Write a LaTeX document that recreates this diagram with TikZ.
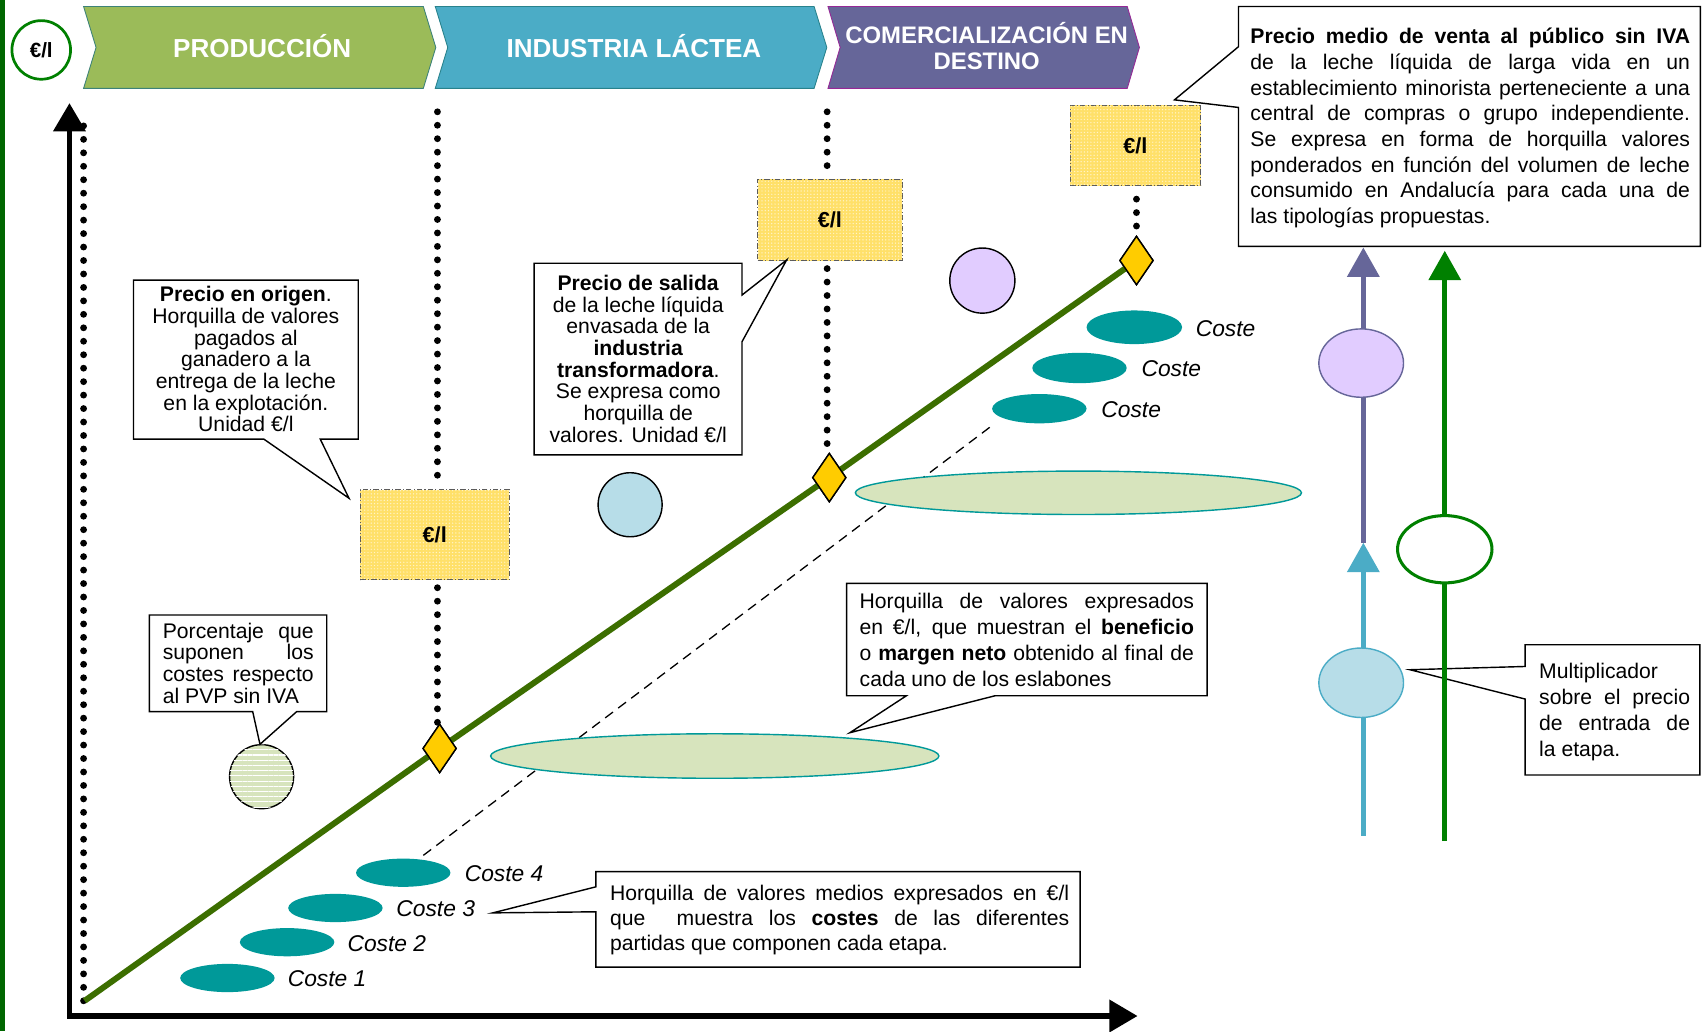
\documentclass[tikz,border=0pt]{standalone}
\usepackage{fontspec}
\setmainfont{Liberation Sans}
\usetikzlibrary{arrows.meta,shapes.geometric,patterns,patterns.meta,calc}

\definecolor{barGreen}{RGB}{0,102,0}
\definecolor{ringGreen}{RGB}{0,128,0}
\definecolor{prodFill}{RGB}{155,187,89}
\definecolor{prodEdge}{RGB}{60,130,120}
\definecolor{indFill}{RGB}{75,172,198}
\definecolor{indEdge}{RGB}{40,130,140}
\definecolor{comFill}{RGB}{102,102,153}
\definecolor{comEdge}{RGB}{150,40,150}
\definecolor{priceFill}{RGB}{255,224,105}
\definecolor{priceEdge}{RGB}{90,90,90}
\definecolor{diamondFill}{RGB}{255,204,0}
\definecolor{costTeal}{RGB}{0,153,153}
\definecolor{marginFill}{RGB}{215,228,189}
\definecolor{lineOlive}{RGB}{60,110,0}
\definecolor{paleBlue}{RGB}{183,221,232}
\definecolor{paleLilac}{RGB}{225,204,255}
\definecolor{arrowBlue}{RGB}{75,172,198}
\definecolor{arrowPurple}{RGB}{102,102,153}

% one justified line of a callout text
\newcommand{\jl}[2]{\makebox[#1][s]{#2}}

\begin{document}
\begin{tikzpicture}[x=1pt,y=-1pt,
  dotline/.style={line width=6.3pt, dash pattern=on 0pt off 12.4pt, line cap=round},
  stagetext/.style={text=white, font=\fontsize{24}{24}\selectfont\bfseries, align=center, inner sep=0},
  pricebox/.style={rectangle, fill=priceFill, draw=priceEdge, line width=0.9pt,
    dash pattern=on 5pt off 2pt on 1pt off 2pt, inner sep=0,
    postaction={pattern={Dots[distance=3pt, radius=0.65pt]}, pattern color=white!65!priceFill},
    font=\fontsize{20}{20}\selectfont\bfseries},
  diam/.style={diamond, draw=black, line width=1.3pt, fill=diamondFill, inner sep=0,
    shape aspect=0.69, minimum width=31pt, minimum height=45pt},
  cost/.style={ellipse, fill=costTeal, inner sep=0, minimum width=87pt, minimum height=26pt},
  costlabel/.style={anchor=west, inner sep=0, font=\fontsize{21}{21}\selectfont\itshape},
  margin/.style={ellipse, fill=marginFill, draw=costTeal, line width=1.3pt, inner sep=0,
    minimum width=411pt, minimum height=40pt},
  callout/.style={draw=black, line width=1.3pt, fill=white, line join=miter},
  ctext/.style={inner sep=0, align=center, font=\fontsize{19.5}{20}\selectfont},
  jtext/.style={inner sep=0, align=left},
  axis/.style={line width=5pt, -{Triangle[length=26pt,width=29pt]}},
  vline/.style={line width=4.5pt, -{Triangle[length=27pt,width=29pt]}}
]
\useasboundingbox (0,0) rectangle (1568,950);
\fill[white] (0,0) rectangle (1568,950);

% left frame bar
\fill[barGreen] (0,0) rectangle (5,950);

% unit badge
\node[circle, draw=ringGreen, line width=2.5pt, fill=white, minimum size=54pt, inner sep=0,
      font=\fontsize{19}{19}\selectfont\bfseries] (unit) at (38,46) {€/l};

% stage chevrons
\filldraw[fill=prodFill, draw=prodEdge, line width=0.8pt]
  (77,6) -- (390,6) -- (401.5,43.7) -- (390,81.4) -- (77,81.4) -- (88.5,43.7) -- cycle;
\node[stagetext] (prod) at (241.5,42) {PRODUCCIÓN};
\filldraw[fill=indFill, draw=indEdge, line width=0.8pt]
  (401,6) -- (750,6) -- (761.7,43.7) -- (750,81.4) -- (401,81.4) -- (412.5,43.7) -- cycle;
\node[stagetext] (ind) at (584,42) {INDUSTRIA LÁCTEA};
\filldraw[fill=comFill, draw=comEdge, line width=0.8pt]
  (762.8,6) -- (1038.5,6) -- (1049.7,43.7) -- (1038.5,81.4) -- (762.8,81.4) -- (774,43.7) -- cycle;
\node[stagetext, font=\fontsize{22}{24}\selectfont\bfseries] (com) at (909,42) {COMERCIALIZACIÓN EN\\DESTINO};

% price boxes and diamonds
\node[pricebox, minimum width=137pt, minimum height=83pt] (box1) at (400.5,492.5) {€/l};
\node[pricebox, minimum width=133pt, minimum height=75pt] (box2) at (764.5,202.5) {€/l};
\node[pricebox, minimum width=120pt, minimum height=74pt] (box3) at (1046,134) {€/l};

\coordinate (origin) at (78,922);
\node[diam] (d1) at (405,689.5) {};
\node[diam] (d2) at (764,440) {};
\node[diam] (d3) at (1047,240) {};

% dotted guides
\coordinate (leftTop) at (77,116);
\coordinate (top1) at (403,103);
\coordinate (top2) at (762,103);
\draw[dotline] (leftTop) -- (origin -| leftTop);
\draw[dotline] (top1) -- ($(top1 |- box1.north)+(0,-8)$);
\draw[dotline] ($(top1 |- box1.south)+(0,7)$) -- (top1 |- d1.north);
\draw[dotline] (top2) -- ($(top2 |- box2.north)+(0,-6)$);
\draw[dotline] ($(top2 |- box2.south)+(0,7)$) -- (top2 |- d2.north);
\draw[dotline] ($(box3.south)+(1,12)$) -- ($(d3.north)+(0,-3)$);

% cost trend
\coordinate (dashA) at (390,788);
\coordinate (dashB) at (914,392);
\draw[line width=1.2pt, dash pattern=on 9pt off 6pt] (dashA) -- (dashB);

\node[margin] (m2) at (993.5,454) {};
\node[margin, minimum width=413pt, minimum height=41pt] (m1) at (658.5,696.5) {};

\node[cost] (c1) at (209.5,901) {};
\node[cost] (c2) at (264.5,868) {};
\node[cost] (c3) at (309,836.5) {};
\node[cost] (c4) at (371.5,804) {};
\node[costlabel] (l1) at (265,902) {Coste 1};
\node[costlabel] (l2) at (320,869) {Coste 2};
\node[costlabel] (l3) at (365,837) {Coste 3};
\node[costlabel] (l4) at (428,805) {Coste 4};

\node[cost, minimum width=88pt, minimum height=31pt] (c7) at (1045,301.5) {};
\node[cost, minimum height=28pt] (c6) at (994.5,339) {};
\node[cost, minimum height=27pt] (c5) at (957.5,376.5) {};
\node[costlabel] (l7) at (1101.5,303) {Coste};
\node[costlabel] (l6) at (1051.5,340) {Coste};
\node[costlabel] (l5) at (1014.5,377) {Coste};

% price line
\draw[line width=5.5pt, lineOlive] (origin) -- (d1.center) -- (d2.center) -- (d3.center);
\node[diam] at (d1) {};
\node[diam] at (d2) {};
\node[diam] at (d3) {};

% legend markers
\node[circle, draw=black, line width=1.3pt, fill=paleLilac, minimum size=60pt, inner sep=0] (lilac) at (905,258.5) {};
\node[circle, draw=black, line width=1.3pt, fill=paleBlue, minimum size=59pt, inner sep=0] (blue) at (580.5,465) {};
\node[circle, draw=black, line width=1.3pt, fill=marginFill, minimum size=59pt, inner sep=0,
      postaction={pattern={Lines[angle=0, distance=4.8pt, line width=1pt]}, pattern color=white}] (pvp) at (241,715.5) {};

% callout: precio en origen
\coordinate (tipOrig) at (321.5,459);
\filldraw[callout] (123,258) -- (330,258) -- (330,404.5) -- (295,404.5) -- (tipOrig)
  -- (243,404.5) -- (123,404.5) -- cycle;
\node[ctext] (tOrig) at (226.5,331) {\textbf{Precio en origen}.\\Horquilla de valores\\pagados al\\ganadero a la\\entrega de la leche\\en la explotación.\\Unidad €/l};

% callout: precio de salida
\coordinate (tipSal) at (724.7,239.5);
\filldraw[callout] (492,242.5) -- (683.6,242.5) -- (683.6,271.8) -- (tipSal) -- (683.6,314.8)
  -- (683.6,419) -- (492,419) -- cycle;
\node[ctext] (tSal) at (588,330.5) {\textbf{Precio de salida}\\de la leche líquida\\envasada de la\\\textbf{industria}\\\textbf{transformadora}.\\Se expresa como\\horquilla de\\valores. Unidad €/l};

% callout: precio de venta
\coordinate (tipPvp) at (1082,92);
\filldraw[callout] (1141,6) -- (1566.5,6) -- (1566.5,227) -- (1141,227) -- (1141,99) -- (tipPvp)
  -- (1141,43) -- cycle;
\node[jtext, font=\fontsize{19.5}{23.7}\selectfont] (tPvp) at (1354.5,118) {%
\jl{405pt}{\textbf{Precio medio de venta al público sin IVA}}\\
\jl{405pt}{de la leche líquida de larga vida en un}\\
\jl{405pt}{establecimiento minorista perteneciente a una}\\
\jl{405pt}{central de compras o grupo independiente.}\\
\jl{405pt}{Se expresa en forma de horquilla valores}\\
\jl{405pt}{ponderados en función del volumen de leche}\\
\jl{405pt}{consumido en Andalucía para cada una de}\\
las tipologías propuestas.};

% callout: porcentaje
\coordinate (tipPct) at (239.5,685.7);
\filldraw[callout] (137.6,566.6) -- (301,566.6) -- (301,655.6) -- (273.3,655.6) -- (tipPct)
  -- (232.8,655.6) -- (137.6,655.6) -- cycle;
\node[jtext, font=\fontsize{19.5}{20}\selectfont] (tPct) at (219.5,611) {%
\jl{139pt}{Porcentaje que}\\
\jl{139pt}{suponen los}\\
\jl{139pt}{costes respecto}\\
al PVP sin IVA};

% callout: beneficio
\coordinate (tipBen) at (783,675);
\filldraw[callout] (780,537.4) -- (1112,537.4) -- (1112,641) -- (916.6,641) -- (tipBen)
  -- (835,641) -- (780,641) -- cycle;
\node[jtext, font=\fontsize{19.5}{23.7}\selectfont] (tBen) at (946,589.5) {%
\jl{308pt}{Horquilla de valores expresados}\\
\jl{308pt}{en €/l, que muestran el \textbf{beneficio}}\\
\jl{308pt}{o \textbf{margen neto} obtenido al final de}\\
cada uno de los eslabones};

% callout: costes
\coordinate (tipCost) at (454,841);
\filldraw[callout] (549,803) -- (995,803) -- (995,891) -- (549,891) -- (549,840) -- (tipCost)
  -- (549,817) -- cycle;
\node[jtext, font=\fontsize{19.5}{23}\selectfont] (tCost) at (773.5,848) {%
\jl{423pt}{Horquilla de valores medios expresados en €/l}\\
\jl{423pt}{que\ \ muestra los \textbf{costes} de las diferentes}\\
partidas que componen cada etapa.};

% axes
\coordinate (ax0) at (64,936);
\coordinate (axY) at (64,95);
\coordinate (axX) at (1048,936);
\draw[axis] ($(ax0)+(0,2.5)$) -- (axY);
\draw[axis] ($(ax0)+(-2.5,0)$) -- (axX);

% callout: multiplicador
\coordinate (tipMul) at (1299,617);
\filldraw[callout] (1405,594) -- (1566,594) -- (1566,714) -- (1405,714) -- (1405,644) -- (tipMul)
  -- (1405,614) -- cycle;
\node[jtext, font=\fontsize{19.5}{24}\selectfont] (tMul) at (1487.5,656) {%
Multiplicador\\
\jl{139pt}{sobre el precio}\\
\jl{139pt}{de entrada de}\\
la etapa.};

% multiplier arrows
\coordinate (bBot) at (1256,770);
\coordinate (bTop) at (1256,500);
\coordinate (pTop) at (1256,228);
\coordinate (gBot) at (1331,775);
\coordinate (gTop) at (1331,231);
\draw[vline, arrowPurple] (bTop) -- (pTop);
\draw[vline, arrowBlue] (bBot) -- (bTop);
\draw[vline, ringGreen] (gBot) -- (gTop);
\node[ellipse, fill=paleLilac, draw=arrowPurple, line width=1.3pt, inner sep=0,
      minimum width=78pt, minimum height=63pt] (mulP) at (1254,334.5) {};
\node[ellipse, fill=paleBlue, draw=arrowBlue, line width=1.3pt, inner sep=0,
      minimum width=78pt, minimum height=64pt] (mulB) at (1254,629) {};
\node[ellipse, fill=white, draw=ringGreen, line width=2.8pt, inner sep=0,
      minimum width=87pt, minimum height=62pt] (mulG) at (1331,506) {};
\end{tikzpicture}
\end{document}
